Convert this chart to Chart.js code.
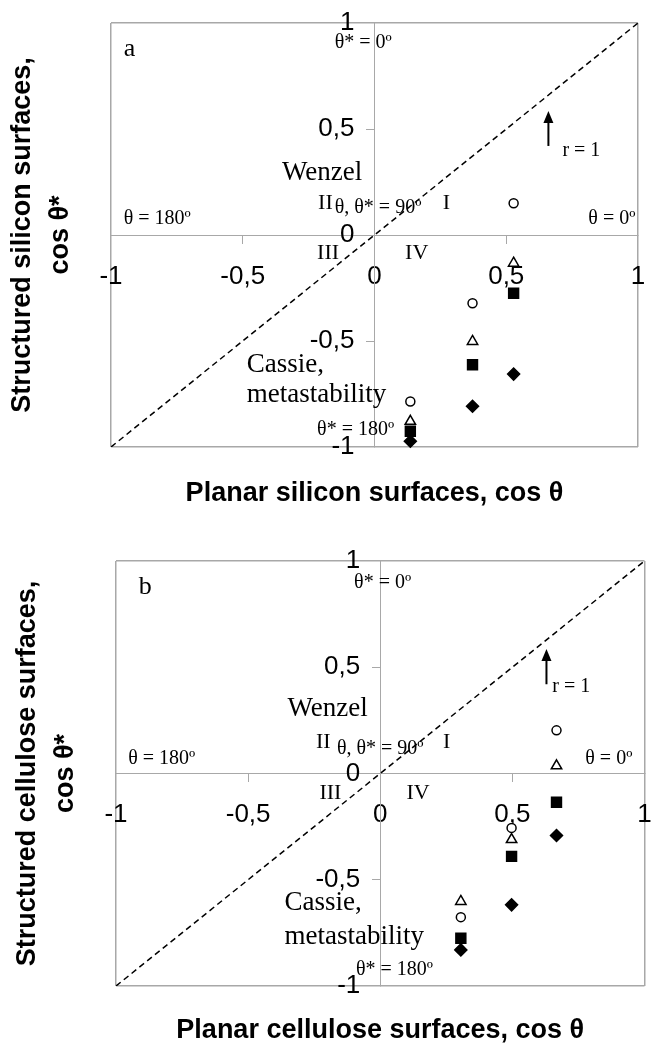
<!DOCTYPE html>
<html>
<head>
<meta charset="utf-8">
<script src="https://cdn.jsdelivr.net/npm/chart.js@4.4.1/dist/chart.umd.min.js"></script>
<style>
  html, body { margin: 0; padding: 0; background: #fff; }
  canvas { position: absolute; left: 0; }
  #chartA { top: 0; }
  #chartB { top: 520px; }
</style>
</head>
<body>
<canvas id="chartA" width="653" height="520"></canvas>
<canvas id="chartB" width="653" height="527"></canvas>
<script>
// Axis ticks (both axes, both panels)
const axisTicks = [-1, -0.5, 0, 0.5, 1];

// r = 1 reference line
const rLineX = [-1, 1];
const rLineY = [-1, 1];

// Panel a - silicon
const planarSilicon = [0.136, 0.372, 0.528];
const siliconCircle = [-0.785, -0.322, 0.150];
const siliconTriangle = [-0.879, -0.502, -0.133];
const siliconSquare = [-0.926, -0.612, -0.275];
const siliconDiamond = [-0.973, -0.808, -0.656];

// Panel b - cellulose
const planarCellulose = [0.305, 0.497, 0.667];
const celluloseCircle = [-0.676, -0.256, 0.203];
const celluloseTriangle = [-0.602, -0.311, 0.036];
const celluloseSquare = [-0.775, -0.39, -0.135];
const celluloseDiamond = [-0.83, -0.618, -0.292];

const AXIS_GREY = '#a8a8a8';
const CLEAR = 'rgba(0,0,0,0)';
const SANS = "'Liberation Sans', Arial, sans-serif";
const SERIF = "'Liberation Serif', 'Times New Roman', serif";

Chart.defaults.font.family = SANS;
Chart.defaults.color = '#000';

function pairs(xs, ys) {
  return xs.map((x, i) => ({ x, y: ys[i] }));
}

function formatTick(v) {
  return String(v).replace('.', ',');
}

function markerSet(label, xs, ys, style, radius, fill) {
  return {
    label,
    data: pairs(xs, ys),
    pointStyle: style,
    pointRadius: radius,
    pointBackgroundColor: fill,
    pointBorderColor: '#000',
    pointBorderWidth: 1.5,
    clip: false,
    order: 1
  };
}

function axisOptions(axis) {
  const cross = axis === 'x' ? 'y' : 'x';
  return {
    type: 'linear',
    min: -1,
    max: 1,
    position: { [cross]: 0 },
    afterBuildTicks: s => { s.ticks = axisTicks.map(v => ({ value: v })); },
    afterFit: s => { s.paddingLeft = s.paddingRight = s.paddingTop = s.paddingBottom = 0; },
    ticks: {
      // y labels are drawn by the plugin below, offset from the centre axis
      display: axis === 'x',
      autoSkip: false,
      maxRotation: 0,
      minRotation: 0,
      padding: 18,
      color: '#000',
      font: { size: 26 },
      callback: v => formatTick(v)
    },
    grid: {
      color: c => (c.tick && (c.tick.value === 0 || Math.abs(c.tick.value) === 1)) ? AXIS_GREY : CLEAR,
      lineWidth: c => (c.tick && Math.abs(c.tick.value) === 1) ? 1.5 : 1,
      tickLength: 8,
      tickColor: c => (c.tick && Math.abs(c.tick.value) === 0.5) ? AXIS_GREY : CLEAR
    },
    border: { display: true, color: AXIS_GREY, width: 1 }
  };
}

// Y tick labels, text labels and the r = 1 arrow, placed in data coordinates
const quadrantLabels = {
  id: 'quadrantLabels',
  afterDraw(chart, args, opts) {
    const { ctx, scales: { x, y } } = chart;
    ctx.save();
    ctx.fillStyle = '#000';
    ctx.textBaseline = 'middle';

    ctx.font = '26px ' + SANS;
    ctx.textAlign = 'right';
    const labelX = x.getPixelForValue(0) - 20;
    y.ticks.forEach(t => {
      ctx.fillText(formatTick(t.value), labelX, y.getPixelForValue(t.value));
    });

    opts.labels.forEach(l => {
      ctx.font = l.size + 'px ' + SERIF;
      ctx.textAlign = l.align || 'left';
      ctx.fillText(l.text, x.getPixelForValue(l.x), y.getPixelForValue(l.y));
    });

    const a = opts.arrow;
    const ax = x.getPixelForValue(a.x);
    const yBase = y.getPixelForValue(a.from);
    const yTip = y.getPixelForValue(a.to);
    ctx.strokeStyle = '#000';
    ctx.lineWidth = 2;
    ctx.beginPath();
    ctx.moveTo(ax, yBase);
    ctx.lineTo(ax, yTip + 10);
    ctx.stroke();
    ctx.beginPath();
    ctx.moveTo(ax, yTip);
    ctx.lineTo(ax - 5, yTip + 12);
    ctx.lineTo(ax + 5, yTip + 12);
    ctx.closePath();
    ctx.fill();
    ctx.restore();
  }
};

function buildChart(canvasId, p) {
  const ctx = document.getElementById(canvasId).getContext('2d');
  return new Chart(ctx, {
    type: 'scatter',
    data: {
      datasets: [
        markerSet('circle', p.xs, p.circle, 'circle', 4.5, '#fff'),
        markerSet('triangle', p.xs, p.triangle, 'triangle', 6, '#fff'),
        markerSet('square', p.xs, p.square, 'rect', 7, '#000'),
        markerSet('diamond', p.xs, p.diamond, 'rectRot', 6, '#000'),
        {
          label: 'r = 1',
          data: pairs(rLineX, rLineY),
          showLine: true,
          borderColor: '#000',
          borderWidth: 1.5,
          borderDash: [6, 4],
          pointRadius: 0,
          fill: false,
          order: 5
        }
      ]
    },
    options: {
      responsive: false,
      animation: false,
      layout: { padding: p.padding },
      scales: { x: axisOptions('x'), y: axisOptions('y') },
      plugins: {
        legend: { display: false },
        tooltip: { enabled: false },
        title: {
          display: true,
          position: 'bottom',
          fullSize: false,
          text: p.xTitle,
          color: '#000',
          font: { size: 27, weight: 'bold', lineHeight: 1 },
          padding: p.xTitlePad
        },
        subtitle: {
          display: true,
          position: 'left',
          fullSize: false,
          text: p.yTitle,
          color: '#000',
          font: { size: 27, weight: 'bold', lineHeight: 1.4 },
          padding: p.yTitlePad
        },
        quadrantLabels: { labels: p.labels, arrow: p.arrow }
      }
    },
    plugins: [quadrantLabels]
  });
}

buildChart('chartA', {
  xs: planarSilicon,
  circle: siliconCircle,
  triangle: siliconTriangle,
  square: siliconSquare,
  diamond: siliconDiamond,
  padding: { top: 23, right: 15, bottom: 0, left: 0 },
  xTitle: 'Planar silicon surfaces, cos θ',
  xTitlePad: { top: 33.5, bottom: 12.5 },
  yTitle: ['Structured silicon surfaces,', 'cos θ*'],
  yTitlePad: { top: 4, bottom: 31.4 },
  arrow: { x: 0.66, from: 0.42, to: 0.585 },
  labels: [
    { text: 'a', x: -0.952, y: 0.875, size: 26 },
    { text: 'θ* = 0º', x: -0.151, y: 0.906, size: 20 },
    { text: 'Wenzel', x: -0.351, y: 0.295, size: 27 },
    { text: 'II', x: -0.214, y: 0.15, size: 22 },
    { text: 'θ, θ* = 90º', x: -0.151, y: 0.13, size: 20 },
    { text: 'I', x: 0.259, y: 0.15, size: 22 },
    { text: 'θ = 180º', x: -0.952, y: 0.078, size: 20 },
    { text: 'θ = 0º', x: 0.99, y: 0.078, size: 20, align: 'right' },
    { text: 'r = 1', x: 0.713, y: 0.397, size: 20 },
    { text: 'III', x: -0.218, y: -0.086, size: 22 },
    { text: 'IV', x: 0.116, y: -0.086, size: 22 },
    { text: 'Cassie,', x: -0.485, y: -0.612, size: 27 },
    { text: 'metastability', x: -0.485, y: -0.754, size: 27 },
    { text: 'θ* = 180º', x: -0.218, y: -0.918, size: 20 }
  ]
});

buildChart('chartB', {
  xs: planarCellulose,
  circle: celluloseCircle,
  triangle: celluloseTriangle,
  square: celluloseSquare,
  diamond: celluloseDiamond,
  padding: { top: 41, right: 2, bottom: 0, left: 0 },
  xTitle: 'Planar cellulose surfaces, cos θ',
  xTitlePad: { top: 31.5, bottom: 2.5 },
  yTitle: ['Structured cellulose surfaces,', 'cos θ*'],
  yTitlePad: { top: 9.1, bottom: 31.3 },
  arrow: { x: 0.629, from: 0.42, to: 0.586 },
  labels: [
    { text: 'b', x: -0.914, y: 0.875, size: 26 },
    { text: 'θ* = 0º', x: -0.099, y: 0.898, size: 20 },
    { text: 'Wenzel', x: -0.351, y: 0.305, size: 27 },
    { text: 'II', x: -0.243, y: 0.145, size: 22 },
    { text: 'θ, θ* = 90º', x: -0.164, y: 0.117, size: 20 },
    { text: 'I', x: 0.237, y: 0.145, size: 22 },
    { text: 'θ = 180º', x: -0.954, y: 0.07, size: 20 },
    { text: 'θ = 0º', x: 0.954, y: 0.07, size: 20, align: 'right' },
    { text: 'r = 1', x: 0.651, y: 0.406, size: 20 },
    { text: 'III', x: -0.23, y: -0.091, size: 22 },
    { text: 'IV', x: 0.099, y: -0.091, size: 22 },
    { text: 'Cassie,', x: -0.362, y: -0.61, size: 27 },
    { text: 'metastability', x: -0.362, y: -0.767, size: 27 },
    { text: 'θ* = 180º', x: -0.092, y: -0.925, size: 20 }
  ]
});
</script>
</body>
</html>
